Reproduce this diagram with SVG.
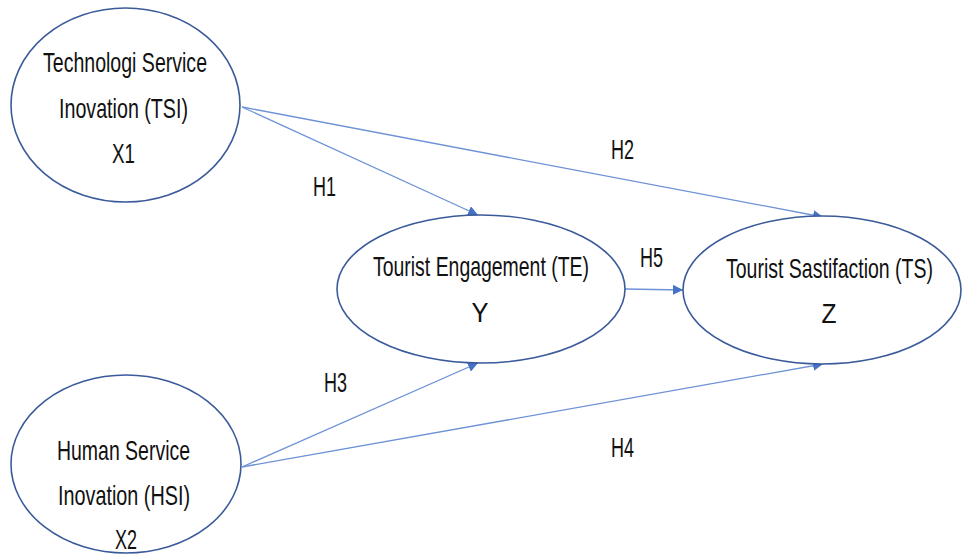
<svg xmlns="http://www.w3.org/2000/svg" width="962" height="556" viewBox="0 0 962 556">
<style>
.node ellipse{fill:#fff;stroke:#3A5A9A;stroke-width:1.6}
text{font-family:"Liberation Sans",Arial,sans-serif;font-size:28px;fill:#111;text-anchor:middle}
.lbl{text-anchor:start}
.conn line{stroke:#6D92D6;stroke-width:1.3;fill:none}
</style>
<defs>
<marker id="arr" markerUnits="userSpaceOnUse" markerWidth="12" markerHeight="10" refX="10" refY="5" orient="auto">
<path d="M0,0 L10,5 L0,10 Z" fill="#4472C4"/>
</marker>
</defs>
<rect width="962" height="556" fill="#fff"/>
<g id="connectors" class="conn">
<line x1="242" y1="107" x2="478" y2="215" marker-end="url(#arr)"/>
<line x1="242" y1="107" x2="823" y2="217" marker-end="url(#arr)"/>
<line x1="242" y1="467" x2="478" y2="363" marker-end="url(#arr)"/>
<line x1="242" y1="467" x2="823" y2="364" marker-end="url(#arr)"/>
<line x1="625" y1="289" x2="683" y2="290" marker-end="url(#arr)"/>
</g>
<g id="TSI" class="node">
<ellipse cx="125.5" cy="105" rx="114.5" ry="97"/>
<text x="125" y="72" textLength="164" lengthAdjust="spacingAndGlyphs">Technologi Service</text>
<text x="123.5" y="118" textLength="129" lengthAdjust="spacingAndGlyphs">Inovation (TSI)</text>
<text x="123.5" y="163" textLength="23" lengthAdjust="spacingAndGlyphs">X1</text>
</g>
<g id="HSI" class="node">
<ellipse cx="126" cy="464" rx="115" ry="89"/>
<text x="123.5" y="460" textLength="133" lengthAdjust="spacingAndGlyphs">Human Service</text>
<text x="124" y="505" textLength="132" lengthAdjust="spacingAndGlyphs">Inovation (HSI)</text>
<text x="126" y="549" textLength="22" lengthAdjust="spacingAndGlyphs">X2</text>
</g>
<g id="TE" class="node">
<ellipse cx="481" cy="289" rx="144" ry="74"/>
<text x="481" y="276" textLength="216" lengthAdjust="spacingAndGlyphs">Tourist Engagement (TE)</text>
<text x="480" y="322" textLength="17" lengthAdjust="spacingAndGlyphs">Y</text>
</g>
<g id="TS" class="node">
<ellipse cx="822" cy="290" rx="139" ry="74"/>
<text x="829.5" y="278" textLength="207" lengthAdjust="spacingAndGlyphs">Tourist Sastifaction (TS)</text>
<text x="829" y="323" textLength="15" lengthAdjust="spacingAndGlyphs">Z</text>
</g>
<g id="labels">
<text class="lbl" x="313" y="196" textLength="23" lengthAdjust="spacingAndGlyphs">H1</text>
<text class="lbl" x="611" y="159" textLength="23" lengthAdjust="spacingAndGlyphs">H2</text>
<text class="lbl" x="324" y="392" textLength="23" lengthAdjust="spacingAndGlyphs">H3</text>
<text class="lbl" x="611" y="457" textLength="23" lengthAdjust="spacingAndGlyphs">H4</text>
<text class="lbl" x="640" y="267" textLength="23" lengthAdjust="spacingAndGlyphs">H5</text>
</g>
</svg>
